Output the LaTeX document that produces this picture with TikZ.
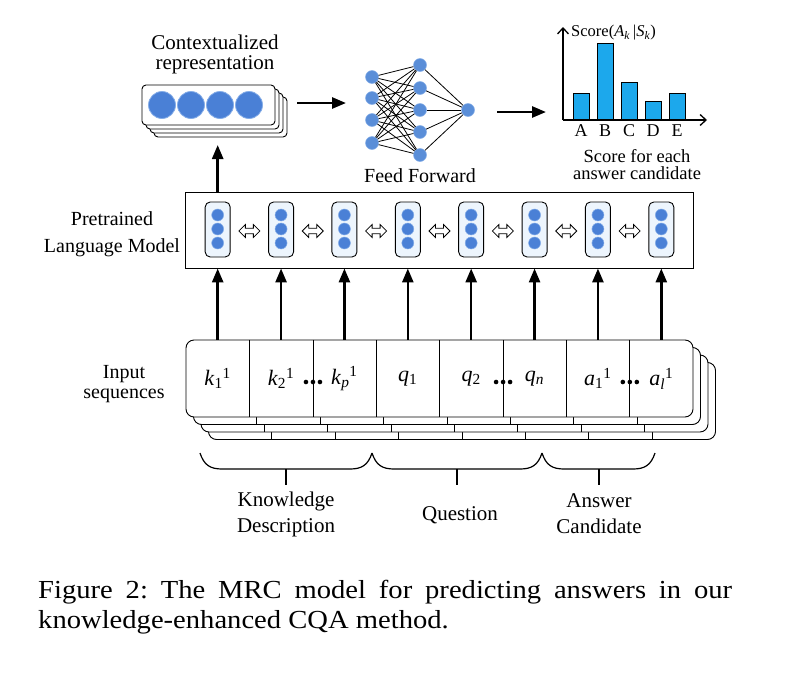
\documentclass[tikz,border=0pt]{standalone}
\usepackage{fontspec}
\setmainfont{Liberation Serif}
\newfontfamily\capfont{Liberation Serif}[FakeStretch=1.1]
\usetikzlibrary{arrows.meta}
\definecolor{dotblue}{HTML}{4A80D6}
\definecolor{dotedge}{HTML}{86AEE8}
\definecolor{nnblue}{HTML}{5A8ED8}
\definecolor{barblue}{HTML}{1CA8EC}
\definecolor{colfill}{HTML}{EDF5FD}
\begin{document}
\frenchspacing
\begin{tikzpicture}[x=1pt,y=-1pt,
 lbl/.style={align=center,inner sep=0pt},
 bigarrow/.style={line width=2.6pt,-{Triangle[width=11pt,length=14pt]}},
 repdot/.style={circle,fill=dotblue,draw=dotedge,line width=0.8pt,minimum size=27pt,inner sep=0pt},
 nndot/.style={circle,fill=nnblue,draw=dotedge,line width=0.5pt,minimum size=13pt,inner sep=0pt},
 coldot/.style={circle,fill=dotblue,draw=dotedge,line width=0.5pt,minimum size=12pt,inner sep=0pt},
 colbox/.style={draw,rounded corners=5pt,fill=colfill,line width=0.9pt,minimum width=25pt,minimum height=55pt,inner sep=0pt},
 hollowarrow/.style={draw,fill=white,line width=0.8pt,line join=miter},
 bar/.style={draw,fill=barblue,line width=0.9pt},
 axis/.style={line width=1.3pt,-{Straight Barb[length=6pt,width=11pt]}},
 cell/.style={font=\fontsize{22}{24}\selectfont,inner sep=0pt},
 seqbox/.style={draw,fill=white,rounded corners=8pt,line width=0.9pt},
 brace/.style={line width=1.2pt},
 nnedge/.style={line width=0.8pt}
]
\useasboundingbox (0,0) rectangle (787,672);

% ---- contextualized representation stack
\node[lbl,font=\fontsize{21}{20}\selectfont] (ctxlbl) at (215,54) {Contextualized\\representation};
\foreach \k in {3,2,1}
  \draw[fill=white,rounded corners=4pt,line width=0.9pt] (142+4*\k,85+4*\k) rectangle ++(133,40);
\node[draw,fill=white,rounded corners=4pt,line width=0.9pt,minimum width=133pt,minimum height=40pt,inner sep=0pt] (rep) at (208.5,105) {};
\foreach \x [count=\n] in {162,191,220,249}
  \node[repdot] (rd\n) at (\x,105) {};

% ---- feed forward network
\foreach \y [count=\n] in {77,98,120,143} \node[nndot] (in\n) at (372,\y) {};
\foreach \y [count=\n] in {65,88,110,132,155} \node[nndot] (hd\n) at (420,\y) {};
\node[nndot] (out) at (468,110) {};
\foreach \a in {1,...,4} \foreach \b in {1,...,5} \draw[nnedge] (in\a) -- (hd\b);
\foreach \b in {1,...,5} \draw[nnedge] (hd\b) -- (out);
\node[lbl,font=\fontsize{20}{20}\selectfont] (fflbl) at (420,176) {Feed Forward};

% ---- horizontal arrows
\coordinate (h1s) at (297,103); \coordinate (h1e) at (346,103);
\coordinate (h2s) at (497,112); \coordinate (h2e) at (546,112);
\draw[bigarrow] (h1s) -- (h1e);
\draw[bigarrow] (h2s) -- (h2e);

% ---- score chart
\foreach \x/\t/\l in {573/93/A,597/43/B,621/82/C,645/101/D,669/93/E} {
  \draw[bar] (\x,120) rectangle (\x+16,\t);
  \node[font=\fontsize{18}{18}\selectfont,inner sep=0pt] (lab\l) at (\x+8,131) {\l};
}
\coordinate (origin) at (563,120); \coordinate (ytip) at (563,27); \coordinate (xtip) at (707,120);
\draw[axis] (origin) -- (ytip);
\draw[axis] (origin) -- (xtip);
\node[anchor=west,font=\fontsize{16.5}{16.5}\selectfont,inner sep=0pt] (scorelbl) at (571,33) {Score(\textit{A}\textsubscript{\textit{k}}\,|\textit{S}\textsubscript{\textit{k}})};
\node[lbl,font=\fontsize{18.5}{17}\selectfont] (chartlbl) at (637,165) {Score for each\\answer candidate};

% ---- pretrained language model
\node[lbl,font=\fontsize{20}{27}\selectfont] (plmlbl) at (112,234) {Pretrained\\Language Model};
\node[draw,line width=0.9pt,minimum width=508pt,minimum height=76pt,inner sep=0pt] (plm) at (439,230) {};
\foreach \i in {0,...,7} {
  \pgfmathsetmacro\cx{217.69+63.375*\i}
  \node[colbox] (col\i) at (\cx,229.5) {};
  \node[coldot] (col\i a) at (\cx,215) {};
  \node[coldot] (col\i b) at (\cx,229) {};
  \node[coldot] (col\i c) at (\cx,243) {};
}
\foreach \i in {0,...,6} {
  \pgfmathsetmacro\dx{217.69+63.375*\i+31.69}
  \coordinate (da\i) at (\dx,231);
  \draw[hollowarrow,shift={(da\i)}] (-10.5,0) -- (-4,-6.5) -- (-4,-2.8) -- (4,-2.8) -- (4,-6.5) -- (10.5,0) -- (4,6.5) -- (4,2.8) -- (-4,2.8) -- (-4,6.5) -- cycle;
}
\coordinate (reptip) at (217.69,145);
\draw[bigarrow] (col0.north |- plm.north) -- (reptip);

% ---- input sequences
\node[lbl,font=\fontsize{20}{20}\selectfont] (inlbl) at (124,384) {Input\\sequences};
\foreach \k in {3,2,1} {
  \draw[seqbox] (186+7.5*\k,340+7.5*\k) rectangle ++(507,77);
  \foreach \j in {1,...,7}
    \draw[line width=0.9pt] (186+63.375*\j+7.5*\k,340+7.5*\k) -- ++(0,77);
}
\node[seqbox,minimum width=507pt,minimum height=77pt,inner sep=0pt] (seq) at (439.5,378.5) {};
\foreach \j in {0,...,7}
  \node[minimum width=63.375pt,minimum height=77pt,inner sep=0pt] (cell\j) at (217.69+63.375*\j,378.5) {};
\foreach \j in {0,...,6}
  \draw[line width=0.9pt] (cell\j.north east) -- (cell\j.south east);
\foreach \j in {0,...,7}
  \draw[bigarrow] (cell\j.north) -- (cell\j.north |- plm.south);

\node[cell] (t0) at (cell0) {\textit{k}\textsubscript{1}\textsuperscript{1}};
\node[cell] (t1) at (cell1) {\textit{k}\textsubscript{2}\textsuperscript{1}};
\node[cell] (t2) at (cell2) {\textit{k}\textsubscript{\textit{p}}\textsuperscript{1}};
\node[cell] (t3) at (cell3) {\textit{q}\textsubscript{1}};
\node[cell] (t4) at (cell4) {\textit{q}\textsubscript{2}};
\node[cell] (t5) at (cell5) {\textit{q}\textsubscript{\textit{n}}};
\node[cell] (t6) at (cell6) {\textit{a}\textsubscript{1}\textsuperscript{1}};
\node[cell] (t7) at (cell7) {\textit{a}\textsubscript{\textit{l}}\textsuperscript{1}};
\foreach \j in {1,4,6}
  \foreach \d in {-7,0,7}
    \fill ([xshift=\d pt,yshift=-3.5pt]cell\j.east) circle (2.3pt);

% ---- braces
\draw[brace] (200,453) .. controls (204,465) and (210,469) .. (222,469) -- (350,469) .. controls (362,469) and (368,465) .. (372,453);
\draw[brace] (372,453) .. controls (376,465) and (382,469) .. (394,469) -- (520,469) .. controls (532,469) and (538,465) .. (542,453);
\draw[brace] (542,453) .. controls (546,465) and (552,469) .. (564,469) -- (633,469) .. controls (645,469) and (651,465) .. (655,453);
\coordinate (b1) at (286,469); \coordinate (b1e) at (286,485);
\coordinate (b2) at (457,469); \coordinate (b2e) at (457,485);
\coordinate (b3) at (599,469); \coordinate (b3e) at (599,485);
\draw[brace] (b1) -- (b1e);
\draw[brace] (b2) -- (b2e);
\draw[brace] (b3) -- (b3e);
\node[lbl,font=\fontsize{21}{26}\selectfont] (kdlbl) at (286,514) {Knowledge\\Description};
\node[lbl,font=\fontsize{21}{26}\selectfont] (qlbl) at (460,515) {Question};
\node[lbl,font=\fontsize{21}{26}\selectfont] (aclbl) at (599,514) {Answer\\Candidate};

% ---- caption
\node[anchor=base west,inner sep=0pt,font=\capfont\fontsize{26}{30}\selectfont] (cap1) at (38,598) {\makebox[694pt][s]{Figure 2: The MRC model for predicting answers in our}};
\node[anchor=base west,inner sep=0pt,font=\capfont\fontsize{26}{30}\selectfont] (cap2) at (38,628) {knowledge-enhanced CQA method.};
\end{tikzpicture}
\end{document}
